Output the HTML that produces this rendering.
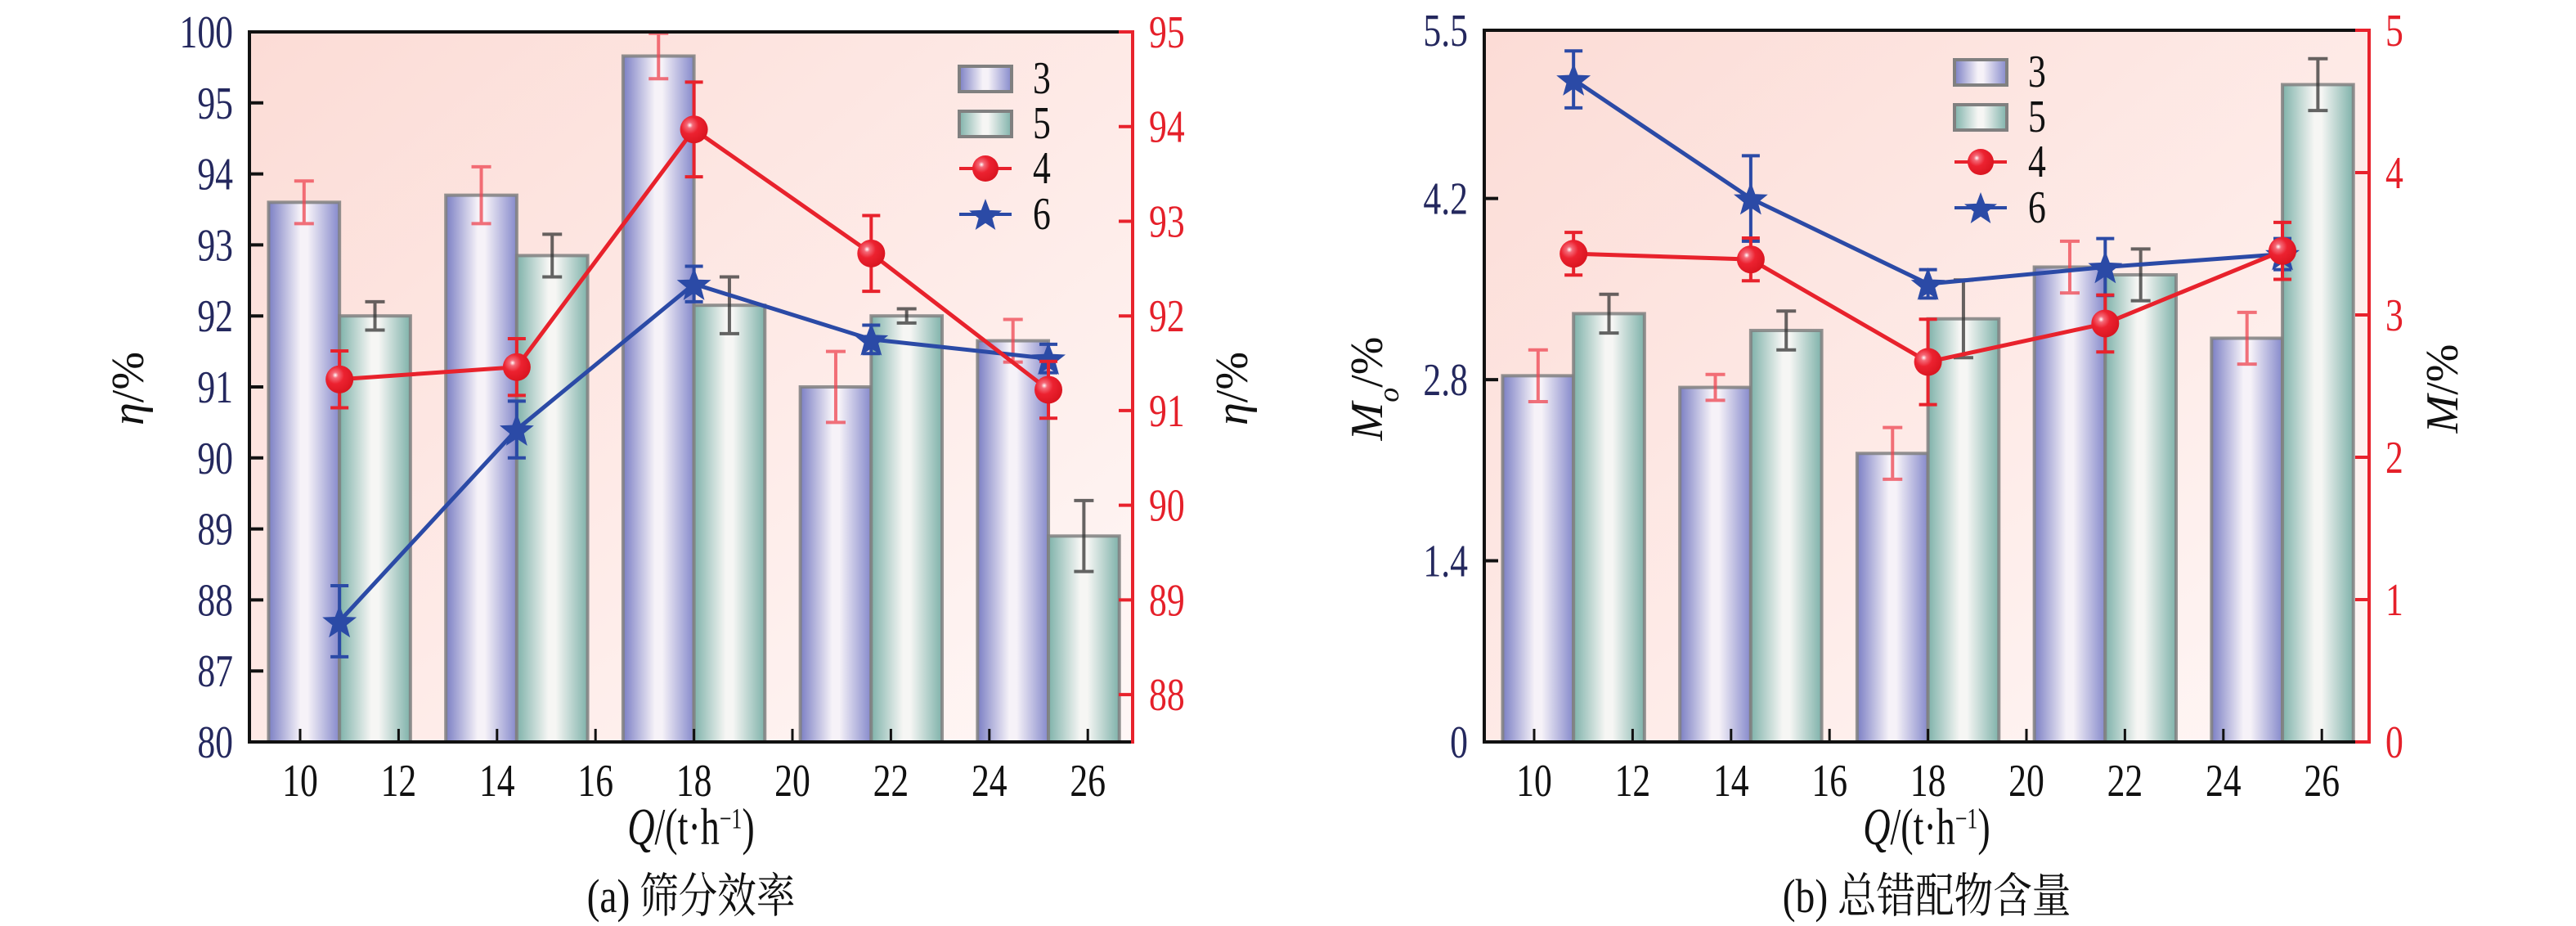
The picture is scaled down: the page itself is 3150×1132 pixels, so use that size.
<!DOCTYPE html>
<html><head><meta charset="utf-8"><style>
html,body{margin:0;padding:0;background:#fff;}
svg{display:block;}
text{font-family:"Liberation Serif","Noto Serif CJK SC",serif;}
</style></head><body>
<svg id="svg" width="3150" height="1132" viewBox="0 0 3150 1132" xmlns="http://www.w3.org/2000/svg">
<defs>
<linearGradient id="bgA" x1="0" y1="0" x2="1" y2="1"><stop offset="0" stop-color="#fcdcd6"/><stop offset="1" stop-color="#fff7f6"/></linearGradient>
<linearGradient id="g3" x1="0" y1="0" x2="1" y2="0"><stop offset="0" stop-color="#7b7fc4"/><stop offset="0.45" stop-color="#f6f2f8"/><stop offset="0.55" stop-color="#f6f2f8"/><stop offset="1" stop-color="#8589cb"/></linearGradient>
<linearGradient id="g5" x1="0" y1="0" x2="1" y2="0"><stop offset="0" stop-color="#7fb2aa"/><stop offset="0.45" stop-color="#f6f6f4"/><stop offset="0.55" stop-color="#f6f6f4"/><stop offset="1" stop-color="#7fb2aa"/></linearGradient>
<radialGradient id="ball" cx="0.35" cy="0.35" r="0.7"><stop offset="0" stop-color="#fff"/><stop offset="0.15" stop-color="#f46a78"/><stop offset="0.45" stop-color="#ec2230"/><stop offset="1" stop-color="#d9141f"/></radialGradient>
</defs>
</svg>
<script>
// ---------- Chart (a) data ----------
const catsA = [10.8, 14.4, 18, 21.6, 25.2];
const bar3A = [93.6, 93.7, 98.3, 91.0, 91.65];
const bar3ErrA = [0.3, 0.4, 1.6, 0.5, 0.3];
const bar5A = [92.0, 92.85, 92.15, 92.0, 88.9];
const bar5ErrA = [0.2, 0.3, 0.4, 0.1, 0.5];
const red4A = [91.33, 91.46, 93.97, 92.66, 91.22];
const red4ErrA = [0.3, 0.3, 0.5, 0.4, 0.3];
const blue6A = [87.7, 90.4, 92.45, 91.67, 91.4];
const blue6ErrA = [0.5, 0.4, 0.25, 0.2, 0.2];
const leftTicksA = [80, 87, 88, 89, 90, 91, 92, 93, 94, 95, 100];
const rightTicksA = [88, 89, 90, 91, 92, 93, 94, 95];
const xTicks = [10, 12, 14, 16, 18, 20, 22, 24, 26];
// ---------- Chart (b) data ----------
const catsB = [10.8, 14.4, 18, 21.6, 25.2];
const bar3B = [2.83, 2.74, 2.23, 3.67, 3.12];
const bar3ErrB = [0.2, 0.1, 0.2, 0.2, 0.2];
const bar5B = [3.31, 3.18, 3.27, 3.61, 5.08];
const bar5ErrB = [0.15, 0.15, 0.3, 0.2, 0.2];
const red4B = [3.43, 3.39, 2.67, 2.94, 3.45];
const red4ErrB = [0.15, 0.15, 0.3, 0.2, 0.2];
const blue6B = [5.12, 4.2, 3.54, 3.67, 3.77];
const blue6ErrB = [0.22, 0.33, 0.11, 0.22, 0.12];
const leftTicksB = [0, 1.4, 2.8, 4.2, 5.5];
const rightTicksB = [0, 1, 2, 3, 4, 5];

const NS = "http://www.w3.org/2000/svg";
const svg = document.getElementById('svg');
function el(tag, attrs, parent) {
  const e = document.createElementNS(NS, tag);
  for (const k in attrs) e.setAttribute(k, attrs[k]);
  (parent || svg).appendChild(e);
  return e;
}
function txt(s, x, y, size, fill, anchor, parent, name) {
  const g = el('g', {transform: `translate(${x},${y}) scale(0.78,1)`}, parent);
  const t = el('text', {x: 0, y: 0, 'font-size': size, fill: fill, 'text-anchor': anchor}, g);
  t.textContent = s;
  
  
  return t;
}
function starPath(cx, cy, R) {
  let d = '';
  for (let i = 0; i < 10; i++) {
    const r = i % 2 ? R * 0.42 : R;
    const a = -Math.PI / 2 + i * Math.PI / 5;
    d += (i ? 'L' : 'M') + (cx + r * Math.cos(a)).toFixed(1) + ',' + (cy + r * Math.sin(a)).toFixed(1);
  }
  return d + 'Z';
}

function chart(o) {
  const g = el('g', {});
  
  
  const X = v => o.x0 + (v - 10) * 60.2;
  const L = o.Ly, R = o.Ry;
  const bg = el('rect', {x: o.left, y: o.top, width: o.right - o.left, height: o.bottom - o.top, fill: 'url(#bgA)'}, g);
  
  
  o.cats.forEach((c, i) => {
    [[o.b3, o.e3, -0.72, 'url(#g3)', '#ee4450', 'bar-series-3'], [o.b5, o.e5, 0.72, 'url(#g5)', '#333', 'bar-series-5']].forEach(s => {
      const cx = X(c + s[2]), w = 86.7;
      const yT = L(s[0][i]);
      const r = el('rect', {x: cx - w / 2, y: yT, width: w, height: o.bottom - yT, fill: s[3], stroke: '#808080', 'stroke-width': 4, 'stroke-opacity': 0.85}, g);
      
      
      const y1 = L(s[0][i] + s[1][i]), y2 = L(s[0][i] - s[1][i]);
      const eb = el('path', {d: `M${cx},${y1}V${y2}M${cx - 12},${y1}H${cx + 12}M${cx - 12},${y2}H${cx + 12}`, stroke: s[4], 'stroke-width': 4, fill: 'none', 'stroke-opacity': 0.75}, g);
      
      
    });
  });
  function line(vals, errs, Y, color, marker, name) {
    const pts = o.cats.map((c, i) => [X(c), Y(vals[i])]);
    const pl = el('polyline', {points: pts.map(p => p.join(',')).join(' '), fill: 'none', stroke: color, 'stroke-width': 5}, g);
    
    
    pts.forEach((p, i) => {
      const y1 = Y(vals[i] + errs[i]), y2 = Y(vals[i] - errs[i]);
      const eb = el('path', {d: `M${p[0]},${y1}V${y2}M${p[0] - 11},${y1}H${p[0] + 11}M${p[0] - 11},${y2}H${p[0] + 11}`, stroke: color, 'stroke-width': 4, fill: 'none'}, g);
      
      
      let m;
      if (marker === 'ball') m = el('circle', {cx: p[0], cy: p[1], r: 17, fill: 'url(#ball)'}, g);
      else m = el('path', {d: starPath(p[0], p[1] + 2, 22), fill: color}, g);
      
      
    });
  }
  line(o.b6, o.e6, o.blueY, '#2b4aa6', 'star', 'series-6');
  line(o.r4, o.e4, R, '#e8222c', 'ball', 'series-4');
  const ax = el('path', {d: `M${o.left},${o.top}H${o.right}M${o.left},${o.top - 2}V${o.bottom}H${o.right}`, stroke: '#111', 'stroke-width': 4, fill: 'none'}, g);
  
  
  const ra = el('line', {x1: o.right, y1: o.top - 2, x2: o.right, y2: o.bottom + 2, stroke: '#e8222c', 'stroke-width': 4}, g);
  
  
  o.lt.forEach(v => {
    const y = L(v);
    el('line', {x1: o.left, y1: y, x2: o.left + 17, y2: y, stroke: '#111', 'stroke-width': 4}, g);
    txt(o.fmtL(v), o.left - 20, y + 19, 56, '#24285e', 'end', g, 'left-tick-label');
  });
  o.rt.forEach(v => {
    const y = R(v);
    el('line', {x1: o.right - 17, y1: y, x2: o.right + 2, y2: y, stroke: '#e8222c', 'stroke-width': 4}, g);
    txt(String(v), o.right + 20, y + 19, 56, '#e5202a', 'start', g, 'right-tick-label');
  });
  xTicks.forEach(v => {
    const x = X(v);
    el('line', {x1: x, y1: o.bottom, x2: x, y2: o.bottom - 16, stroke: '#111', 'stroke-width': 3}, g);
    txt(String(v), x, o.bottom + 66, 56, '#111', 'middle', g, 'x-tick-label');
  });
  const cx = (o.left + o.right) / 2;
  const xt = el('text', {x: cx, y: 1032, 'font-size': 64, 'text-anchor': 'middle', fill: '#111', transform: `translate(${cx},0) scale(0.72,1) translate(${-cx},0)`}, g);
  xt.innerHTML = '<tspan font-style="italic">Q</tspan>/(t·h<tspan baseline-shift="super" font-size="36">−1</tspan>)';
  
  
  const cap = el('text', {x: cx, y: 1115, 'font-size': 58, 'text-anchor': 'middle', fill: '#111', transform: `translate(${cx},0) scale(0.82,1) translate(${-cx},0)`}, g);
  cap.textContent = o.caption;
  
  
  const lt = el('text', {x: 0, y: 0, 'font-size': 56, 'text-anchor': 'middle', fill: '#111', transform: `translate(${o.ltx},475) rotate(-90)`}, g);
  lt.innerHTML = o.ltitle;
  
  
  const rtt = el('text', {x: 0, y: 0, 'font-size': 56, 'text-anchor': 'middle', fill: '#111', transform: `translate(${o.rtx},475) rotate(-90)`}, g);
  rtt.innerHTML = o.rtitle;
  
  
  const lg = el('g', {}, g);
  
  
  const lx = o.legX, ly = o.legY;
  [['url(#g3)', '3'], ['url(#g5)', '5']].forEach((s, i) => {
    const r = el('rect', {x: lx, y: ly[i] - 15, width: 64, height: 31, fill: s[0], stroke: '#808080', 'stroke-width': 4}, lg);
    
    
    txt(s[1], lx + 90, ly[i] + 18, 56, '#111', 'start', lg, 'legend-label');
  });
  el('line', {x1: lx, y1: ly[2], x2: lx + 64, y2: ly[2], stroke: '#e8222c', 'stroke-width': 4}, lg);
  el('circle', {cx: lx + 32, cy: ly[2], r: 16, fill: 'url(#ball)'}, lg);
  txt('4', lx + 90, ly[2] + 18, 56, '#111', 'start', lg, 'legend-label');
  el('line', {x1: lx, y1: ly[3], x2: lx + 64, y2: ly[3], stroke: '#2b4aa6', 'stroke-width': 4}, lg);
  el('path', {d: starPath(lx + 32, ly[3] + 2, 21), fill: '#2b4aa6'}, lg);
  txt('6', lx + 90, ly[3] + 18, 56, '#111', 'start', lg, 'legend-label');
}

const topA = 39, botA = 907, stepA = (botA - topA) / 10;
function LA(v) {
  let pos;
  if (v <= 87) pos = (v - 80) / 7;
  else if (v <= 95) pos = 1 + (v - 87);
  else pos = 9 + (v - 95) / 5;
  return botA - pos * stepA;
}
function RA(v) { return botA - (v - 87.5) / 7.5 * (botA - topA); }
chart({name: 'chart-a-screening-efficiency', left: 305, right: 1385, top: topA, bottom: botA, x0: 367,
  Ly: LA, Ry: RA, blueY: LA, cats: catsA, b3: bar3A, e3: bar3ErrA, b5: bar5A, e5: bar5ErrA,
  r4: red4A, e4: red4ErrA, b6: blue6A, e6: blue6ErrA, lt: leftTicksA, rt: rightTicksA, fmtL: v => String(v),
  caption: '(a) 筛分效率', ltx: 175, rtx: 1525,
  ltitle: '<tspan font-style="italic">η</tspan>/%', rtitle: '<tspan font-style="italic">η</tspan>/%',
  legX: 1173, legY: [96, 151, 206, 262]});

const topB = 37, botB = 907;
function LB(v) { return botB - v / 5.5 * (botB - topB); }
function RB(v) { return botB - v / 5 * (botB - topB); }
chart({name: 'chart-b-misplaced-content', left: 1815, right: 2897, top: topB, bottom: botB, x0: 1876,
  Ly: LB, Ry: RB, blueY: LB, cats: catsB, b3: bar3B, e3: bar3ErrB, b5: bar5B, e5: bar5ErrB,
  r4: red4B, e4: red4ErrB, b6: blue6B, e6: blue6ErrB, lt: leftTicksB, rt: rightTicksB, fmtL: v => String(v),
  caption: '(b) 总错配物含量', ltx: 1690, rtx: 3005,
  ltitle: '<tspan font-style="italic">M</tspan><tspan font-style="italic" baseline-shift="sub" font-size="36">o</tspan>/%', rtitle: '<tspan font-style="italic">M</tspan>/%',
  legX: 2390, legY: [88, 143, 198, 254]});
</script>
</body></html>
